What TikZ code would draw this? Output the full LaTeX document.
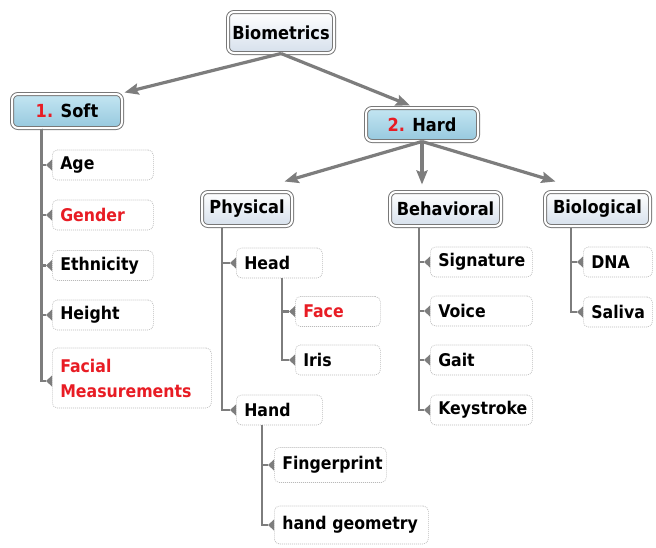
\documentclass[tikz,border=0pt]{standalone}
\usepackage{fontspec}
\setmainfont{DejaVu Sans Condensed}
\usetikzlibrary{arrows.meta,calc}
\definecolor{linegray}{RGB}{125,125,125}
\definecolor{framegray}{RGB}{120,120,120}
\definecolor{dashgray}{RGB}{185,185,185}
\definecolor{paleblue}{RGB}{214,224,236}
\definecolor{softtop}{RGB}{196,230,242}
\definecolor{softbot}{RGB}{150,200,222}
\definecolor{hired}{RGB}{232,28,36}
\tikzset{
  txt/.style={font=\bfseries\fontsize{17.5}{21}\selectfont},
  headbox/.style={font=\bfseries\fontsize{18}{21}\selectfont, draw=framegray, line width=1pt,
    double=white, double distance=2pt, rounded corners=6pt, top color=white,
    bottom color=paleblue, inner sep=0pt, minimum height=34pt},
  classbox/.style={headbox, top color=softtop, bottom color=softbot},
  leaf/.style={txt, draw=dashgray, line width=0.6pt, dash pattern=on 1pt off 1pt,
    rounded corners=5pt, fill=white, anchor=west, inner xsep=8pt, inner ysep=0pt,
    minimum height=30pt, align=left},
  link/.style={draw=linegray, line width=3.2pt, -{Stealth[length=14pt,width=11pt,inset=2pt]}},
  branch/.style={draw=linegray, line width=2.6pt,
    -{Triangle[reversed,length=6pt,width=11pt,line width=0pt,fill=linegray]}},
}
\begin{document}
\begin{tikzpicture}[x=1pt,y=-1pt]
\useasboundingbox (0,0) rectangle (656,547);

% top level and the two classes
\node[headbox, minimum width=106pt, minimum height=41pt] (bio) at (281,32.5) {Biometrics};
\node[classbox, minimum width=110pt] (soft) at (67,111) {\textcolor{hired}{1.} Soft};
\node[classbox, minimum width=112pt, minimum height=33pt] (hard) at (422,124.5) {\textcolor{hired}{2.} Hard};

% hard traits
\node[headbox, minimum width=90pt] (phys) at (247,209) {Physical};
\node[headbox, minimum width=111pt] (behav) at (445.5,209) {Behavioral};
\node[headbox, minimum width=105pt] (biol) at (597.5,209) {Biological};

\draw[link] (bio.south) -- ($(soft.north east)+(2,-1)$);
\draw[link] (bio.south) -- ($(hard.north)+(-12,-2)$);
\draw[link] (hard.south) -- ($(phys.north east)+(-8,-10)$);
\draw[link] (hard.south) -- ($(behav.north -| hard.south)+(0,-7)$);
\draw[link] (hard.south) -- ($(biol.north)+(-42,-10)$);

% soft traits
\node[leaf, text width=85pt] (age) at (52,165) {Age};
\node[leaf, text width=85pt] (gender) at (52,215) {\textcolor{hired}{Gender}};
\node[leaf, text width=85pt] (eth) at (52,265.5) {Ethnicity};
\node[leaf, text width=85pt] (height) at (52,315) {Height};
\node[leaf, text width=143pt, minimum height=60pt] (facial) at (52,378)
  {\textcolor{hired}{Facial}\\[4pt]\textcolor{hired}{Measurements}};
\coordinate (softT) at ($(soft.south west)+(30,0)$);
\foreach \c in {age,gender,eth,height} \draw[branch] (softT) |- (\c.west);
\draw[branch] (softT) |- ($(facial.west)+(0,3)$);

% physical
\node[leaf, text width=70pt] (head) at (236,263) {Head};
\node[leaf, text width=70pt] (hand) at (236,410) {Hand};
\node[leaf, text width=69pt] (face) at (295,311.5) {\textcolor{hired}{Face}};
\node[leaf, text width=69pt] (iris) at (295,360) {Iris};
\node[leaf, text width=96pt, minimum height=35pt] (finger) at (274,465) {Fingerprint};
\node[leaf, text width=138pt, minimum height=38pt] (hgeo) at (274,525) {hand geometry};
\coordinate (physT) at (222,228);
\draw[branch] (physT) |- (head.west);
\draw[branch] (physT) |- (hand.west);
\coordinate (headT) at (282,278);
\draw[branch] (headT) |- (face.west);
\draw[branch] (headT) |- (iris.west);
\coordinate (handT) at (262,425);
\draw[branch] (handT) |- (finger.west);
\draw[branch] (handT) |- (hgeo.west);

% behavioral
\node[leaf, text width=86pt] (sig) at (430,262) {Signature};
\node[leaf, text width=86pt] (voice) at (430,311) {Voice};
\node[leaf, text width=86pt] (gait) at (430,360) {Gait};
\node[leaf, text width=86pt] (key) at (430,410) {Keystroke};
\coordinate (behavT) at (419,228);
\foreach \c in {sig,voice,gait,key} \draw[branch] (behavT) |- (\c.west);

% biological
\node[leaf, text width=53pt] (dna) at (583,262) {DNA};
\node[leaf, text width=53pt] (saliva) at (583,312) {Saliva};
\coordinate (biolT) at (571,228);
\foreach \c in {dna,saliva} \draw[branch] (biolT) |- (\c.west);
\end{tikzpicture}
\end{document}
